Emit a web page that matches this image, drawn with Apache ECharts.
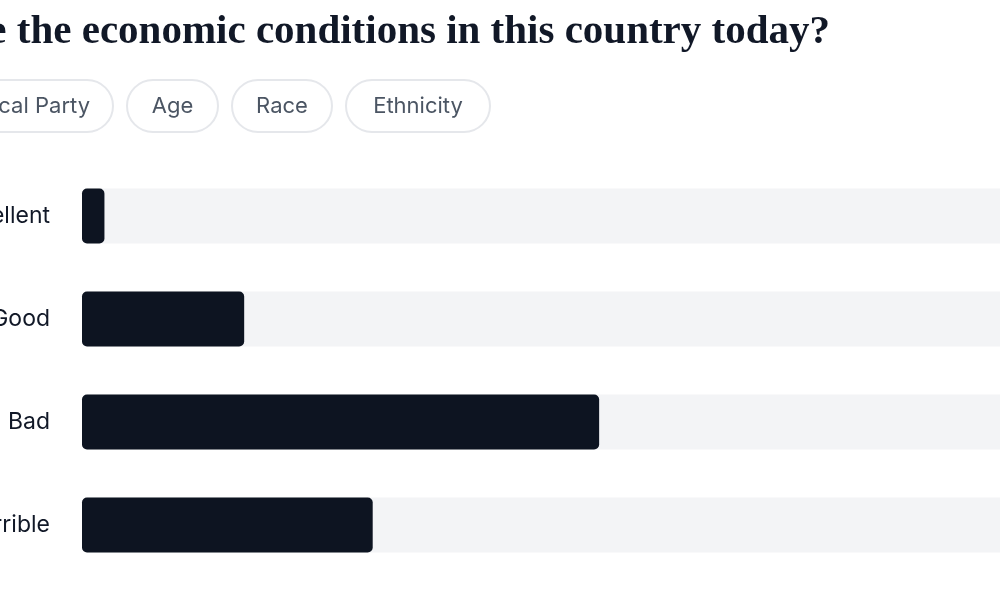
<!DOCTYPE html>
<html><head><meta charset="utf-8">
<script src="https://cdn.jsdelivr.net/npm/echarts@6/dist/echarts.min.js"></script>
<style>html,body{margin:0;padding:0;background:#fff}#c{width:1000px;height:600px}</style>
</head><body><div id="c"></div>
<script>
const titleText = "How would you rate the economic conditions in this country today?";
const filters = ["Political Party", "Age", "Race", "Ethnicity"];
const categories = ["Excellent", "Good", "Bad", "Terrible"];
const values = [2.2, 15.9, 50.7, 28.5];
const trackMax = 100;

const chart = echarts.init(document.getElementById('c'));
const pillX = [-110, 127, 232, 346];
const pillW = [223, 91, 100, 144];
const graphics = [{
  type: 'text', right: 170, top: 12,
  style: { text: titleText, font: '600 41px "Liberation Serif", serif', fill: '#111827' }
}];
filters.forEach((f, i) => {
  graphics.push({
    type: 'rect', shape: { x: pillX[i], y: 80, width: pillW[i], height: 52, r: 26 },
    style: { fill: '#fff', stroke: '#e5e7eb', lineWidth: 2 }
  });
  graphics.push({
    type: 'text', x: i === 0 ? 90 : pillX[i] + pillW[i] / 2, y: 106,
    style: { text: f, font: '22px Inter, sans-serif', fill: '#4b5563', textAlign: i === 0 ? 'right' : 'center', textVerticalAlign: 'middle' }
  });
});
chart.setOption({
  animation: false,
  graphic: graphics,
  grid: { left: 82, top: 164.5, height: 412, width: 1020, containLabel: false, outerBoundsMode: 'none' },
  xAxis: { type: 'value', min: 0, max: trackMax, show: false },
  yAxis: {
    type: 'category', data: categories, inverse: true,
    axisLine: { show: false }, axisTick: { show: false },
    axisLabel: { margin: 32, fontSize: 23, fontFamily: 'Inter, sans-serif', color: '#111827' }
  },
  series: [{
    type: 'bar', data: values, barWidth: 55,
    showBackground: true,
    backgroundStyle: { color: '#f3f4f6', borderRadius: 5 },
    itemStyle: { color: '#0d1421', borderRadius: 5 }
  }]
});
</script></body></html>
